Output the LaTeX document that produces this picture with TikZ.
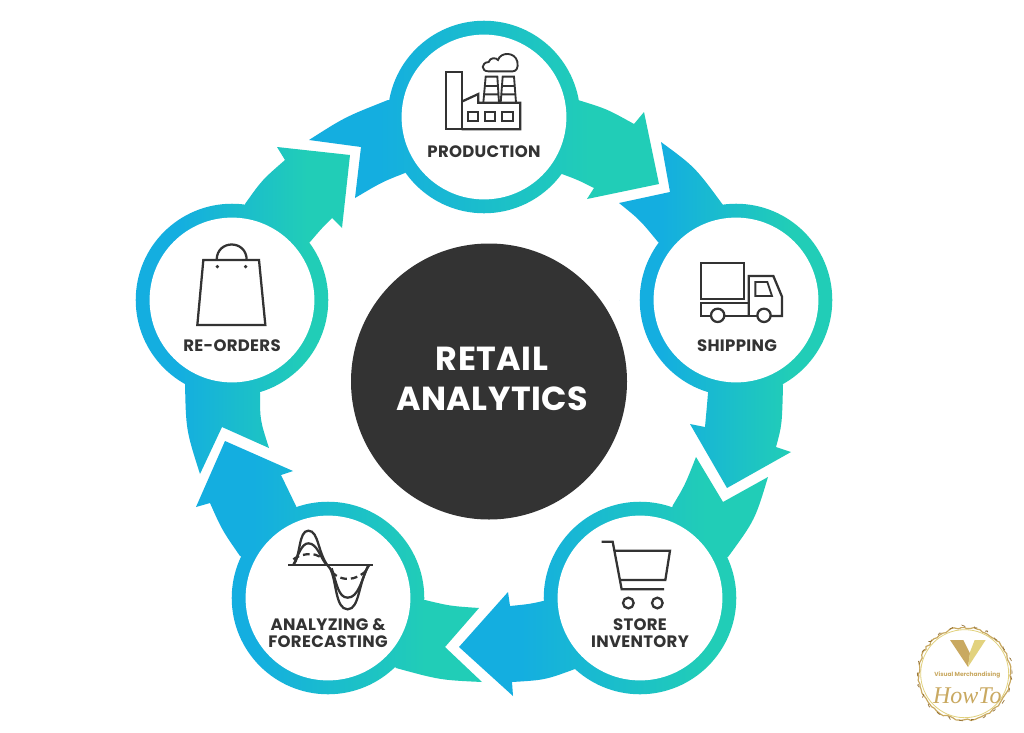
\documentclass[tikz,border=0pt]{standalone}
\usepackage{fontspec}
\setmainfont{Poppins}
\newfontfamily\logoserif{Liberation Serif}
\newfontfamily\labfont[LetterSpace=1.8]{Poppins}
\newfontfamily\titlefont[LetterSpace=1.5]{Poppins}
\usetikzlibrary{decorations.pathmorphing}
\definecolor{cb}{HTML}{14AEE0}
\definecolor{ct}{HTML}{21CDB7}
\definecolor{ink}{HTML}{333333}
\definecolor{gold}{HTML}{C9A961}
\definecolor{goldb}{HTML}{8E6A2E}
\definecolor{goldl}{HTML}{E2D27E}
\pgfdeclarehorizontalshading{ringgrad}{100bp}{color(0bp)=(cb); color(35bp)=(cb); color(65bp)=(ct); color(100bp)=(ct)}
\newcommand\ringpiece[3]{\shade[shading=ringgrad] (#1,300)--(#1,300) (#2,300)--(#2,300) #3;}
\tikzset{
  inner/.style={circle,fill=white,minimum size=123.6pt,inner sep=0pt},
  lab/.style={font=\labfont\fontsize{12.4}{13.2}\selectfont\bfseries,text=ink,align=center,inner sep=0pt},
  icon/.style={draw=ink,line width=1.7pt,line join=miter,fill=none},
  iconthin/.style={draw=ink,line width=1.4pt,line join=miter,fill=none},
  title/.style={font=\titlefont\fontsize{25}{30}\selectfont\bfseries,text=white,align=center,inner sep=0pt}
}
\begin{document}
\begin{tikzpicture}[x=0.75pt,y=-0.75pt]
\useasboundingbox (0,0) rectangle (1024,732);
\fill[white] (0,0) rectangle (1024,732);

% Production group
\ringpiece{309}{660}{(484,117) circle[radius=72.2pt]}
\ringpiece{309}{660}{(309,140) .. controls (345,117) .. (388,100) -- (484,117) -- (405,173) .. controls (382,182) .. (355,198) -- (361,147) -- cycle}
\ringpiece{309}{660}{(578,100) .. controls (607,109) .. (634,124) -- (644,112) -- (659,184) -- (587,199) -- (594,188) .. controls (578,180) .. (562,174) -- (484,117) -- cycle}
% Shipping group
\ringpiece{619}{832}{(736,300) circle[radius=72.2pt]}
\ringpiece{619}{832}{(661,142) .. controls (695,167) .. (723,205) -- (736,300) -- (658,242) .. controls (640,220) .. (619,203) -- (670,192) -- cycle}
\ringpiece{619}{832}{(708,393) .. controls (707,405) .. (705,427) -- (690,424) -- (727,488) -- (791,452) -- (776,447) .. controls (782,425) .. (783,385) -- (736,300) -- cycle}
% Store group
\ringpiece{459}{768}{(640,598) circle[radius=72.2pt]}
\ringpiece{459}{768}{(696,457) -- (723,502) -- (768,477) .. controls (755,520) .. (728,557) -- (640,598) -- (673,505) .. controls (685,485) .. cycle}
\ringpiece{459}{768}{(543,601) .. controls (530,604) .. (510,606) -- (508,592) -- (459,647) -- (513,696) -- (512,682) .. controls (545,680) .. (575,669) -- (640,598) -- cycle}
% Analyzing group
\ringpiece{196}{482}{(328,598) circle[radius=72.2pt]}
\ringpiece{196}{482}{(425,600) .. controls (450,606) .. (479,608) -- (445,647) -- (482,682) .. controls (440,680) .. (396,668) -- (328,598) -- cycle}
\ringpiece{196}{482}{(296,506) -- (281,475) -- (293,471) -- (225,441) -- (196,507) -- (210,503) .. controls (222,530) .. (240,556) -- (328,598) -- cycle}
% Re-orders group
\ringpiece{136}{350}{(232,300) circle[radius=72.2pt]}
\ringpiece{136}{350}{(185,383) .. controls (186,430) .. (200,474) -- (222,427) -- (269,448) .. controls (260,420) .. (260,393) -- (232,300) -- cycle}
\ringpiece{136}{350}{(245,204) .. controls (262,180) .. (285,160) -- (277,147) -- (350,155) -- (342,228) -- (332,218) .. controls (322,228) .. (310,242) -- (232,300) -- cycle}

% White discs
\node[inner] (prod) at (484,117) {};
\node[inner] (ship) at (736,300) {};
\node[inner] (store) at (640,598) {};
\node[inner] (anal) at (328,598) {};
\node[inner] (reord) at (232,300) {};

% Centre
\node[circle,fill=ink,minimum size=207pt,inner sep=0pt] (hub) at (489,381.5) {};
\node[title] (hubtext) at (492,378.5) {RETAIL\\ANALYTICS};

% Labels
\node[lab] (prodlab) at (484,152) {PRODUCTION};
\node[lab] (shiplab) at (737,346) {SHIPPING};
\node[lab] (storelab) at (640,633) {STORE\\INVENTORY};
\node[lab] (anallab) at (328,633) {ANALYZING \&\\FORECASTING};
\node[lab] (reordlab) at (232,346) {RE-ORDERS};

% Factory icon
\begin{scope}[shift={(380,0)},x=.25pt,y=-.25pt]
\draw[icon] (197,217) rectangle (245,388);
\draw[icon] (245,388) -- (421,388) -- (421,308) -- (295,308) -- (295,282) -- (245,305);
\draw[iconthin] (263,335) rectangle (294,362) (314,335) rectangle (345,362) (367,335) rectangle (400,362);
\draw[iconthin] (310,308) -- (317,230) -- (352,230) -- (357,308) (314,258) -- (354,258) (312,283) -- (356,283);
\draw[iconthin] (362,308) -- (368,230) -- (402,230) -- (408,308) (366,258) -- (405,258) (364,283) -- (407,283);
\draw[iconthin] (325,214) .. controls (303,214) and (302,188) .. (326,186) .. controls (330,172) and (348,172) .. (354,180) .. controls (362,155) and (405,155) .. (412,185) .. controls (416,205) and (408,214) .. (398,214) -- cycle;
\end{scope}

% Truck icon
\begin{scope}[shift={(640,200)},x=.25pt,y=-.25pt]
\draw[icon] (182,190) rectangle (312,296);
\draw[icon] (213,348) -- (182,348) -- (182,308) -- (326,308);
\draw[icon] (253,348) -- (352,348);
\draw[icon] (392,348) -- (426,348) -- (426,290) -- (400,228) -- (326,228) -- (326,348);
\draw[iconthin] (346,246) -- (382,246) -- (396,288) -- (346,288) -- cycle;
\draw[icon] (233,346) circle[radius=5pt];
\draw[icon] (372,346) circle[radius=5pt];
\end{scope}

% Cart icon
\begin{scope}[shift={(540,500)},x=.25pt,y=-.25pt]
\draw[icon] (185,125) -- (218,125) -- (245,268) -- (372,268);
\draw[icon] (225,152) -- (390,152) -- (376,240) -- (240,240);
\draw[icon] (265,309) circle[radius=4pt];
\draw[icon] (352,309) circle[radius=4pt];
\end{scope}

% Wave icon
\begin{scope}[shift={(230,500)},x=.25pt,y=-.25pt]
\draw[icon] (175,195) -- (428,195);
\draw[icon] (190,195) .. controls (212,170) and (205,92) .. (235,92) .. controls (268,92) and (262,165) .. (300,205) .. controls (320,240) and (315,328) .. (353,328) .. controls (390,328) and (385,240) .. (418,195);
\draw[icon] (190,195) .. controls (205,165) and (215,130) .. (235,130) .. controls (262,130) and (272,175) .. (290,195);
\draw[icon] (305,205) .. controls (320,250) and (325,293) .. (353,293) .. controls (385,293) and (395,240) .. (415,195);
\draw[icon,dash pattern=on 5pt off 3pt] (190,178) .. controls (205,165) and (255,150) .. (278,178);
\draw[icon,dash pattern=on 5pt off 3pt] (305,215) .. controls (330,245) and (380,245) .. (412,208);
\end{scope}

% Bag icon
\begin{scope}[shift={(140,200)},x=.25pt,y=-.25pt]
\draw[icon] (190,180) -- (357,180) -- (376,375) -- (172,375) -- cycle;
\draw[icon] (230,180) .. controls (230,118) and (320,118) .. (320,180);
\fill[ink] (232,200) circle[radius=1.4pt] (317,200) circle[radius=1.4pt];
\end{scope}

% Logo
\begin{scope}[shift={(904,612)},x=.25pt,y=-.25pt]
\pgfmathsetseed{7}
\draw[goldl,line width=.6pt] (182,185) circle[radius=33pt];
\draw[gold,line width=.9pt,decorate,decoration={random steps,segment length=2.5pt,amplitude=.8pt}] (182,185) circle[radius=34.5pt];
\draw[goldb,line width=.5pt,dash pattern=on 3pt off 7pt,decorate,decoration={random steps,segment length=2pt,amplitude=1pt}] (182,185) circle[radius=35.5pt];
\fill[gold] (138,84) -- (178,84) -- (198,124) -- (192,165) -- cycle;
\fill[goldl] (245,84) -- (212,84) -- (198,120) -- (192,165) -- cycle;
\node[font=\fontsize{4.4}{5}\selectfont\bfseries,text=gold,inner sep=0pt] (logotext) at (190,190) {Visual Merchandising};
\node[font=\logoserif\itshape\fontsize{18}{20}\selectfont,text=gold,inner sep=0pt] (logohow) at (190,250) {HowTo};
\end{scope}
\end{tikzpicture}
\end{document}
